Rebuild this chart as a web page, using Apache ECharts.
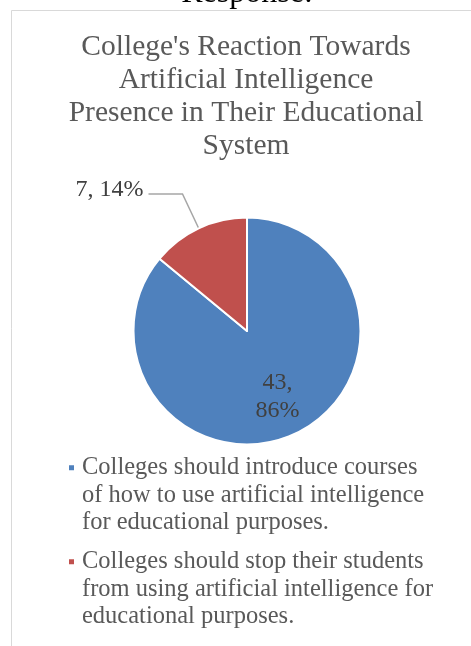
<!DOCTYPE html>
<html>
<head>
<meta charset="utf-8">
<script src="https://cdn.jsdelivr.net/npm/echarts@6/dist/echarts.min.js"></script>
<style>
  html, body { margin: 0; padding: 0; background: #ffffff; }
  #chart { width: 471px; height: 646px; }
</style>
</head>
<body>
<div id="chart"></div>
<script>
// Survey responses
const categories = [
  "Colleges should introduce courses of how to use artificial intelligence for educational purposes.",
  "Colleges should stop their students from using artificial intelligence for educational purposes."
];
const legendLines = [
  "Colleges should introduce courses\nof how to use artificial intelligence\nfor educational purposes.",
  "Colleges should stop their students\nfrom using artificial intelligence for\neducational purposes."
];
const counts = [43, 7];
const percents = [86, 14];
const colors = ["#4F81BD", "#C0504D"];
const titleText = "College's Reaction Towards\nArtificial Intelligence\nPresence in Their Educational\nSystem";

const serif = "'Liberation Serif', 'DejaVu Serif', serif";
const chart = echarts.init(document.getElementById('chart'), null, { renderer: 'canvas' });

// Legend marker: small square sitting beside the first text line of a three-line entry
const legendLineHeight = 27.5;
const legendBlock = legendLineHeight * 3;
const markerTop = legendLineHeight / 2 - 3.5;
const legendMarker = 'path://M0,0M0,' + markerTop + 'h7v7h-7zM9,' + legendBlock;

const pieData = categories.map((name, i) => ({
  name: name,
  value: counts[i],
  itemStyle: { color: colors[i] },
  label: i === 0
    ? { position: 'inside', formatter: counts[i] + ',\n' + percents[i] + '%' }
    : { position: 'outside', formatter: counts[i] + ', ' + percents[i] + '%' },
  labelLine: { show: i !== 0 }
}));

chart.setOption({
  animation: false,
  backgroundColor: '#ffffff',
  graphic: [
    {
      type: 'text', x: 247, y: -6,
      style: { text: 'Response:', font: "32px " + serif, fill: '#000000', align: 'center', verticalAlign: 'middle' }
    },
    {
      type: 'rect', shape: { x: 11.5, y: 10.5, width: 520, height: 700 },
      style: { fill: 'none', stroke: '#D9D9D9', lineWidth: 1 }, silent: true
    }
  ],
  title: {
    text: titleText,
    left: 241,
    textAlign: 'center',
    top: 26,
    textStyle: { fontFamily: serif, fontSize: 29.5, fontWeight: 'normal', color: '#595959', lineHeight: 33 }
  },
  legend: {
    orient: 'vertical',
    left: 62,
    top: 448,
    itemWidth: 9,
    itemHeight: legendBlock,
    itemGap: 9.5,
    icon: legendMarker,
    data: categories,
    formatter: name => legendLines[categories.indexOf(name)],
    textStyle: { fontFamily: serif, fontSize: 24.5, color: '#595959', lineHeight: legendLineHeight }
  },
  series: [{
    type: 'pie',
    center: [247, 331],
    radius: 113.5,
    startAngle: 90,
    clockwise: true,
    data: pieData,
    itemStyle: { borderColor: '#ffffff', borderWidth: 2 },
    label: { fontFamily: serif, fontSize: 24, color: '#404040', lineHeight: 28, align: 'center' },
    labelLine: { length: 38, length2: 34, lineStyle: { color: '#A6A6A6', width: 1.5 } },
    labelLayout: p => (p.dataIndex === 0 ? { dx: 5, dy: 12 } : { dy: -4 })
  }]
});
</script>
</body>
</html>
